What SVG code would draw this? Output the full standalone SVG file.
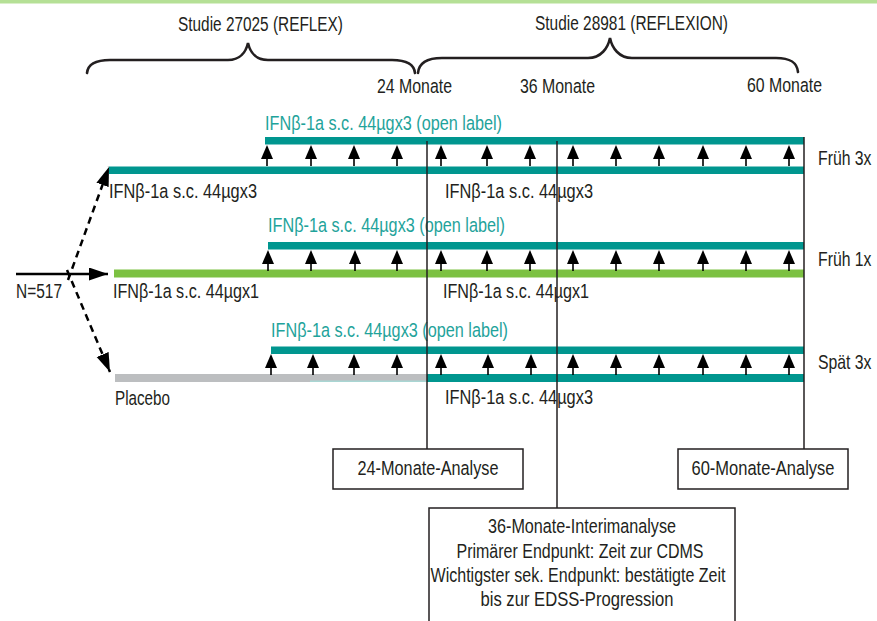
<svg xmlns="http://www.w3.org/2000/svg" width="877" height="621" viewBox="0 0 877 621">
<defs>
<style>
text{font-family:"Liberation Sans",Arial,sans-serif;font-size:20.5px;fill:#231f20}
.t{fill:#1fa39b}
.teal{fill:#00968f}
.green{fill:#7cc142}
.grey{fill:#bcbec0}
.box{fill:#fff;stroke:#231f20;stroke-width:1.5}
.vl{stroke:#231f20;stroke-width:1.5;fill:none}
.brace{fill:none;stroke:#231f20;stroke-width:2.6;stroke-linecap:round}
.c{text-anchor:middle}
.ln{stroke:#000;stroke-width:2.5;fill:none}
.dash{stroke:#000;stroke-width:2.5;fill:none;stroke-dasharray:7 5}
</style>
<g id="ua" fill="#000"><polygon points="0,0 6,14 -6,14"/><rect x="-0.8" y="13" width="1.6" height="8"/></g>
<marker id="ah" markerUnits="userSpaceOnUse" markerWidth="20" markerHeight="14" refX="19" refY="6.5" orient="auto"><path d="M0,0 L19,6.5 L0,13 Z" fill="#000"/></marker>
</defs>
<rect x="0" y="0" width="877" height="621" fill="#fff"/>
<rect x="0" y="0" width="877" height="3.5" fill="#b5e096"/>

<g id="study1">
<text x="260.5" y="31" class="c" textLength="165" lengthAdjust="spacingAndGlyphs">Studie 27025 (REFLEX)</text>
<path class="brace" d="M87,73 C88,63 97,60 110,60 L228,60 C240,60 246,52 248,43 C250,52 256,60 268,60 L392,60 C405,60 414,63 415,73"/>
</g>
<g id="study2">
<text x="631.5" y="30" class="c" textLength="193" lengthAdjust="spacingAndGlyphs">Studie 28981 (REFLEXION)</text>
<path class="brace" d="M418,73 C419,62 428,58 442,58 L588,58 C601,58 608,48 610,38 C612,48 619,58 632,58 L776,58 C790,58 797,62 798,72"/>
</g>
<g id="timepoints">
<text x="377" y="93" textLength="75" lengthAdjust="spacingAndGlyphs">24 Monate</text>
<text x="520" y="93" textLength="75" lengthAdjust="spacingAndGlyphs">36 Monate</text>
<text x="747" y="92" textLength="75" lengthAdjust="spacingAndGlyphs">60 Monate</text>
</g>

<g id="arm-frueh3x">
<text x="265" y="129.5" class="t" textLength="237" lengthAdjust="spacingAndGlyphs">IFNβ-1a s.c. 44µgx3 (open label)</text>
<rect class="teal" x="265" y="137" width="539" height="7.5"/>
<rect class="teal" x="109" y="166.5" width="695" height="7.5"/>
<use href="#ua" x="267" y="145"/><use href="#ua" x="311" y="145"/><use href="#ua" x="354" y="145"/><use href="#ua" x="397" y="145"/><use href="#ua" x="441" y="145"/><use href="#ua" x="487" y="145"/><use href="#ua" x="530" y="145"/><use href="#ua" x="573" y="145"/><use href="#ua" x="616" y="145"/><use href="#ua" x="659" y="145"/><use href="#ua" x="703" y="145"/><use href="#ua" x="746" y="145"/><use href="#ua" x="789" y="145"/>
<text x="109" y="198" textLength="148" lengthAdjust="spacingAndGlyphs">IFNβ-1a s.c. 44µgx3</text>
<text x="445" y="198" textLength="148" lengthAdjust="spacingAndGlyphs">IFNβ-1a s.c. 44µgx3</text>
<text transform="translate(818,165) scale(0.77,1)">Früh 3x</text>
</g>

<g id="arm-frueh1x">
<text x="268" y="232" class="t" textLength="237" lengthAdjust="spacingAndGlyphs">IFNβ-1a s.c. 44µgx3 (open label)</text>
<rect class="teal" x="268" y="242" width="536" height="7.5"/>
<rect class="green" x="114" y="269.5" width="690" height="8"/>
<use href="#ua" x="268" y="250"/><use href="#ua" x="311" y="250"/><use href="#ua" x="355" y="250"/><use href="#ua" x="397" y="250"/><use href="#ua" x="441" y="250"/><use href="#ua" x="487" y="250"/><use href="#ua" x="530" y="250"/><use href="#ua" x="573" y="250"/><use href="#ua" x="616" y="250"/><use href="#ua" x="659" y="250"/><use href="#ua" x="703" y="250"/><use href="#ua" x="746" y="250"/><use href="#ua" x="789" y="250"/>
<text x="113" y="298" textLength="146" lengthAdjust="spacingAndGlyphs">IFNβ-1a s.c. 44µgx1</text>
<text x="443" y="298" textLength="146" lengthAdjust="spacingAndGlyphs">IFNβ-1a s.c. 44µgx1</text>
<text transform="translate(818,266) scale(0.77,1)">Früh 1x</text>
</g>

<g id="arm-spaet3x">
<text x="271" y="337" class="t" textLength="237" lengthAdjust="spacingAndGlyphs">IFNβ-1a s.c. 44µgx3 (open label)</text>
<rect class="teal" x="271" y="346.5" width="533" height="7.5"/>
<rect class="grey" x="115" y="374" width="312" height="8"/>
<rect x="310" y="380.5" width="117" height="1.5" fill="#a9d6d3"/>
<rect class="teal" x="427" y="374" width="377" height="8"/>
<use href="#ua" x="271" y="354"/><use href="#ua" x="313" y="354"/><use href="#ua" x="354" y="354"/><use href="#ua" x="397" y="354"/><use href="#ua" x="441" y="354"/><use href="#ua" x="488" y="354"/><use href="#ua" x="531" y="354"/><use href="#ua" x="573" y="354"/><use href="#ua" x="616" y="354"/><use href="#ua" x="659" y="354"/><use href="#ua" x="703" y="354"/><use href="#ua" x="746" y="354"/><use href="#ua" x="789" y="354"/>
<text x="115" y="405" textLength="55" lengthAdjust="spacingAndGlyphs">Placebo</text>
<text x="445" y="404" textLength="148" lengthAdjust="spacingAndGlyphs">IFNβ-1a s.c. 44µgx3</text>
<text transform="translate(818,369) scale(0.77,1)">Spät 3x</text>
</g>

<g id="start">
<text x="16" y="298" textLength="46" lengthAdjust="spacingAndGlyphs">N=517</text>
</g>

<g id="box24">
<rect class="box" x="333" y="449" width="190" height="40"/>
<text x="428" y="475" class="c" textLength="141" lengthAdjust="spacingAndGlyphs">24-Monate-Analyse</text>
</g>
<g id="box60">
<rect class="box" x="678" y="449" width="170" height="40"/>
<text x="763" y="475" class="c" textLength="143" lengthAdjust="spacingAndGlyphs">60-Monate-Analyse</text>
</g>
<g id="box36">
<rect class="box" x="429" y="508" width="306" height="125"/>
<text x="582" y="533" class="c" textLength="188" lengthAdjust="spacingAndGlyphs">36-Monate-Interimanalyse</text>
<text x="580" y="558" class="c" textLength="247" lengthAdjust="spacingAndGlyphs">Primärer Endpunkt: Zeit zur CDMS</text>
<text x="578" y="582" class="c" textLength="295" lengthAdjust="spacingAndGlyphs">Wichtigster sek. Endpunkt: bestätigte Zeit</text>
<text x="577" y="606" class="c" textLength="193" lengthAdjust="spacingAndGlyphs">bis zur EDSS-Progression</text>
</g>

<g id="connectors">
<line class="ln" x1="16" y1="274" x2="108" y2="274" marker-end="url(#ah)"/>
<line class="dash" x1="68" y1="280" x2="109" y2="167" marker-end="url(#ah)"/>
<line class="dash" x1="67" y1="270" x2="110" y2="372" marker-end="url(#ah)"/>
<line class="vl" x1="427" y1="141" x2="427" y2="449"/>
<line class="vl" x1="557" y1="141" x2="557" y2="508"/>
<line class="vl" x1="804" y1="137" x2="804" y2="449"/>
</g>
</svg>
